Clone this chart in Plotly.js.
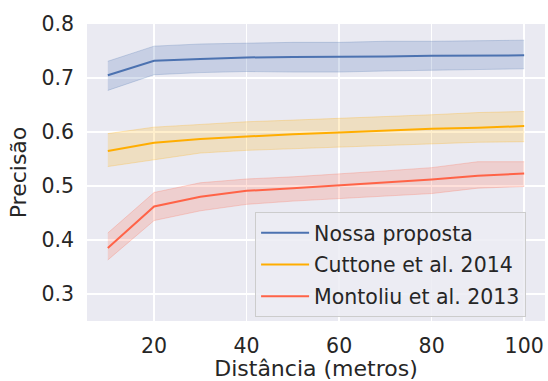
<!DOCTYPE html>
<html><head><meta charset="utf-8">
<script src="https://cdn.plot.ly/plotly-3.0.1.min.js"></script>
<style>html,body{margin:0;padding:0;background:#fff}#chart{width:548px;height:381px}</style>
</head><body><div id="chart"></div>
<script>
const distances = [10, 20, 30, 40, 50, 60, 70, 80, 90, 100];
const seriesNames = ["Nossa proposta", "Cuttone et al. 2014", "Montoliu et al. 2013"];
const nossaMean  = [0.705, 0.732, 0.735, 0.738, 0.739, 0.739, 0.740, 0.741, 0.741, 0.742];
const nossaUpper = [0.731, 0.759, 0.763, 0.765, 0.766, 0.766, 0.768, 0.768, 0.769, 0.770];
const nossaLower = [0.677, 0.706, 0.710, 0.712, 0.711, 0.711, 0.713, 0.714, 0.715, 0.717];
const cuttoneMean  = [0.565, 0.580, 0.587, 0.592, 0.596, 0.599, 0.603, 0.606, 0.608, 0.611];
const cuttoneUpper = [0.597, 0.609, 0.614, 0.619, 0.622, 0.625, 0.629, 0.632, 0.636, 0.638];
const cuttoneLower = [0.536, 0.549, 0.561, 0.566, 0.569, 0.572, 0.576, 0.579, 0.581, 0.582];
const montoliuMean  = [0.385, 0.462, 0.480, 0.491, 0.496, 0.501, 0.507, 0.512, 0.519, 0.523];
const montoliuUpper = [0.413, 0.488, 0.506, 0.513, 0.517, 0.522, 0.528, 0.534, 0.545, 0.545];
const montoliuLower = [0.363, 0.436, 0.454, 0.466, 0.472, 0.477, 0.481, 0.486, 0.496, 0.499];
const xTicks = [20, 40, 60, 80, 100];
const yTicks = [0.3, 0.4, 0.5, 0.6, 0.7, 0.8];

const colors = ["#4c72b0", "#ffad00", "#ff6347"];
const bandFill = ["rgba(76,114,176,0.22)", "rgba(255,173,0,0.2)", "rgba(255,99,71,0.2)"];
const bandEdge = ["rgba(76,114,176,0.25)", "rgba(255,173,0,0.25)", "rgba(255,99,71,0.25)"];
const means = [nossaMean, cuttoneMean, montoliuMean];
const uppers = [nossaUpper, cuttoneUpper, montoliuUpper];
const lowers = [nossaLower, cuttoneLower, montoliuLower];

const traces = [];
for (let i = 0; i < 3; i++) {
  traces.push({x: distances, y: uppers[i], mode: 'lines', line: {color: bandEdge[i], width: 1},
    showlegend: false, hoverinfo: 'skip'});
  traces.push({x: distances, y: lowers[i], mode: 'lines', line: {color: bandEdge[i], width: 1},
    fill: 'tonexty', fillcolor: bandFill[i], showlegend: false, hoverinfo: 'skip'});
}
for (let i = 0; i < 3; i++) {
  traces.push({x: distances, y: means[i], mode: 'lines', name: seriesNames[i],
    legendgroup: 'g' + i, line: {color: colors[i], width: 2}});
}

const font = {family: 'DejaVu Sans', color: '#262626'};
const layout = {
  width: 548, height: 381,
  margin: {l: 87, r: 3, t: 24, b: 60},
  paper_bgcolor: '#ffffff', plot_bgcolor: '#eaeaf2',
  font: font,
  showlegend: true,
  legend: {x: 0.367, y: 0.367, xanchor: 'left', yanchor: 'top',
    bgcolor: 'rgba(236,236,243,0.85)', bordercolor: '#cccccc', borderwidth: 1,
    font: {family: 'DejaVu Sans', size: 20.5, color: '#262626'},
    itemwidth: 48,
    traceorder: 'grouped', tracegroupgap: 2},
  xaxis: {range: [5.5, 104.5], tickvals: xTicks, ticktext: xTicks.map(String),
    showgrid: true, gridcolor: '#ffffff', gridwidth: 1.5, zeroline: false, showline: false,
    ticks: '', ticklabelstandoff: 10, tickfont: {family: 'DejaVu Sans', size: 20.5, color: '#262626'},
    title: {text: 'Distância (metros)', font: {family: 'DejaVu Sans', size: 22, color: '#262626'}, standoff: 3}},
  yaxis: {range: [0.25, 0.8], tickvals: yTicks, ticktext: yTicks.map(v => v.toFixed(1)),
    showgrid: true, gridcolor: '#ffffff', gridwidth: 1.5, zeroline: false, showline: false,
    ticks: '', ticklabelstandoff: 12, tickfont: {family: 'DejaVu Sans', size: 20.5, color: '#262626'},
    title: {text: 'Precisão', font: {family: 'DejaVu Sans', size: 22, color: '#262626'}, standoff: 8}}
};
Plotly.newPlot('chart', traces, layout, {staticPlot: true, displayModeBar: false});
</script></body></html>
